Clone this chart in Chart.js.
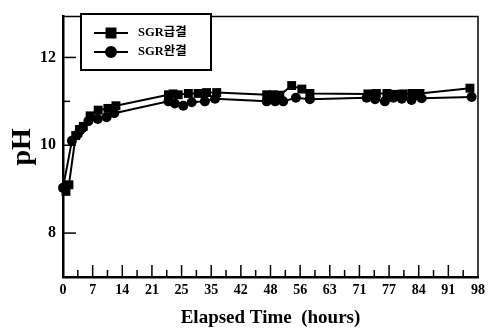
<!DOCTYPE html>
<html>
<head>
<meta charset="utf-8">
<script src="https://cdn.jsdelivr.net/npm/chart.js@4"></script>
<style>
  html, body { margin: 0; padding: 0; background: #fff; }
  canvas { display: block; }
</style>
</head>
<body>
<canvas id="chart" width="496" height="331"></canvas>
<script>
// Series (time in hours, pH)
const fastTime = [0.7, 1.4, 3.0, 3.9, 4.8, 6.4, 8.3, 10.6, 12.5, 24.9, 26.0, 27.2, 29.6, 31.9, 33.9, 36.3, 48.1, 49.7, 51.2, 54.0, 56.4, 58.3, 72.0, 74.0, 76.5, 78.4, 80.3, 82.4, 84.3, 96.1];
const fastPH = [8.95, 9.1, 10.22, 10.36, 10.43, 10.67, 10.8, 10.84, 10.9, 11.15, 11.17, 11.15, 11.18, 11.18, 11.2, 11.2, 11.15, 11.15, 11.14, 11.36, 11.28, 11.18, 11.17, 11.18, 11.18, 11.16, 11.17, 11.18, 11.18, 11.3];
const slowTime = [0, 2.1, 3.5, 4.5, 6.0, 8.2, 10.3, 12.1, 24.9, 26.4, 28.4, 30.4, 33.5, 35.9, 48.1, 50.1, 52.0, 55.0, 58.3, 71.7, 73.7, 76.0, 78.0, 80.0, 82.3, 84.7, 96.5];
const slowPH = [9.03, 10.1, 10.25, 10.38, 10.55, 10.6, 10.64, 10.73, 11.0, 10.95, 10.9, 10.98, 11.0, 11.06, 11.0, 11.0, 11.0, 11.08, 11.05, 11.08, 11.05, 11.0, 11.08, 11.06, 11.03, 11.07, 11.1];
const seriesNames = ['SGR급결', 'SGR완결'];
const xTickLabels = ['0', '7', '14', '21', '25', '35', '42', '48', '56', '63', '71', '77', '84', '91', '98'];
const yTickLabels = ['8', '10', '12'];

const serif = "'Liberation Serif', 'Noto Sans CJK KR', serif";

function toPoints(xs, ys) {
  return xs.map((x, i) => ({ x: x, y: ys[i] }));
}

// inward tick marks, frame and boxed legend
const framePlugin = {
  id: 'frame',
  afterDraw(chart) {
    const ctx = chart.ctx;
    const xs = chart.scales.x;
    const ys = chart.scales.y;
    const a = chart.chartArea;
    ctx.save();
    ctx.strokeStyle = '#000';

    // thin top/right border
    ctx.lineWidth = 1.5;
    ctx.beginPath();
    ctx.moveTo(a.left, a.top);
    ctx.lineTo(a.right, a.top);
    ctx.lineTo(a.right, a.bottom);
    ctx.stroke();

    // x ticks pointing up
    ctx.lineWidth = 1.5;
    for (let v = 3.5; v < 98; v += 3.5) {
      const px = xs.getPixelForValue(v);
      const len = (v % 7 === 0) ? 12 : 7;
      ctx.beginPath();
      ctx.moveTo(px, a.bottom);
      ctx.lineTo(px, a.bottom - len);
      ctx.stroke();
    }
    // y ticks pointing right
    for (let v = 8; v <= 12; v += 1) {
      const py = ys.getPixelForValue(v);
      const len = (v % 2 === 0) ? 13 : 7;
      ctx.beginPath();
      ctx.moveTo(a.left, py);
      ctx.lineTo(a.left + len, py);
      ctx.stroke();
    }

    // legend box
    const bx = 81, by = 14, bw = 130, bh = 56;
    ctx.fillStyle = '#fff';
    ctx.fillRect(bx, by, bw, bh);
    ctx.lineWidth = 2;
    ctx.strokeRect(bx, by, bw, bh);
    const rows = [33, 52];
    chart.data.datasets.forEach((ds, i) => {
      const y = rows[i];
      ctx.lineWidth = 2;
      ctx.beginPath();
      ctx.moveTo(94, y);
      ctx.lineTo(128, y);
      ctx.stroke();
      ctx.fillStyle = '#000';
      Chart.helpers.drawPoint(ctx, {
        pointStyle: ds.pointStyle,
        radius: ds.pointRadius,
        borderWidth: 1
      }, 111, y);
      ctx.font = 'bold 12.5px ' + serif;
      ctx.textBaseline = 'middle';
      ctx.textAlign = 'left';
      ctx.fillText(ds.label, 138, y);
    });
    ctx.restore();
  }
};

new Chart(document.getElementById('chart').getContext('2d'), {
  type: 'line',
  data: {
    datasets: [
      {
        label: seriesNames[0],
        data: toPoints(fastTime, fastPH),
        borderColor: '#000',
        backgroundColor: '#000',
        borderWidth: 2,
        pointStyle: 'rect',
        pointRadius: 6.3,
        pointBorderWidth: 0,
        tension: 0,
        clip: false
      },
      {
        label: seriesNames[1],
        data: toPoints(slowTime, slowPH),
        borderColor: '#000',
        backgroundColor: '#000',
        borderWidth: 2,
        pointStyle: 'circle',
        pointRadius: 5,
        pointBorderWidth: 0,
        tension: 0,
        clip: false
      }
    ]
  },
  options: {
    responsive: false,
    animation: false,
    layout: {
      padding: { top: 8, right: 18, left: 0, bottom: 0 }
    },
    plugins: {
      legend: { display: false },
      tooltip: { enabled: false }
    },
    scales: {
      x: {
        type: 'linear',
        min: 0,
        max: 98,
        afterFit: function (scale) { scale.height = 54; },
        grid: { display: false, drawTicks: false },
        border: { color: '#000', width: 2.5 },
        ticks: {
          stepSize: 7,
          autoSkip: false,
          maxRotation: 0,
          padding: 5,
          color: '#000',
          font: { family: serif, size: 14, weight: 'bold' },
          callback: function (value, index) {
            return xTickLabels[index];
          }
        },
        title: {
          display: true,
          text: 'Elapsed Time  (hours)',
          color: '#000',
          font: { family: serif, size: 19, weight: 'bold' },
          padding: { top: 0, bottom: 2 }
        }
      },
      y: {
        min: 7,
        max: 12.93,
        afterFit: function (scale) { scale.width = 63; },
        grid: { display: false, drawTicks: false },
        border: { color: '#000', width: 2.5 },
        ticks: {
          stepSize: 1,
          padding: 7,
          color: '#000',
          font: { family: serif, size: 16, weight: 'bold' },
          callback: function (value) {
            const s = String(value);
            return yTickLabels.includes(s) ? s : '';
          }
        },
        title: {
          display: true,
          text: 'pH',
          color: '#000',
          font: { family: serif, size: 28, weight: 'bold' },
          padding: { top: 6, bottom: 0 }
        }
      }
    }
  },
  plugins: [framePlugin]
});
</script>
</body>
</html>
